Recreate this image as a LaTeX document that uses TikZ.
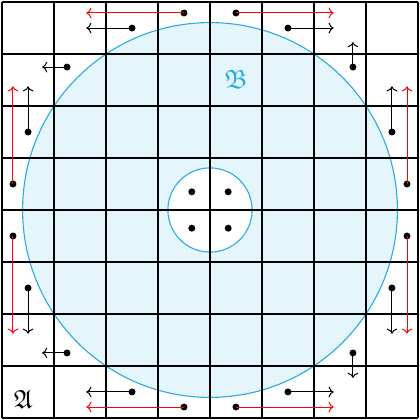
\documentclass[tikz,border=0pt]{standalone}
\usepackage{amssymb}
\usetikzlibrary{arrows.meta}
\definecolor{discline}{HTML}{29ABE2}
\definecolor{discfill}{HTML}{E4F5FC}
\definecolor{flowred}{HTML}{FF0000}

\begin{document}
\begin{tikzpicture}[dot/.style={circle,fill=black,inner sep=0pt,minimum size=3.8pt},
  flow/.style={->,line width=0.55pt}]
\useasboundingbox (-0.04,-0.04) rectangle (8.04,8.04);
% the disc B and the hole round the centre
\draw[discline,fill=discfill,line width=0.6pt] (4,4) circle ({sqrt(13)});
\draw[discline,fill=white,line width=0.6pt] (4,4) circle (0.81);
\node[discline,font=\Large] (B) at (4.5,6.51) {$\mathfrak{B}$};
\node[font=\Large] (A) at (0.41,0.35) {$\mathfrak{A}$};
% grid
\draw[line width=1.1pt] (0,0) grid (8,8);
% dots in the hole
\foreach \nm/\pos in {c1/{3.65,4.35},c2/{4.35,4.35},c3/{3.65,3.65},c4/{4.35,3.65}}
  \node[dot] (\nm) at (\pos) {};
% red moves along the border
\foreach \nm/\pos/\tip in {r1/{3.5,7.79}/{1.62,7.79},r2/{4.5,7.79}/{6.38,7.79},
  r3/{3.5,0.21}/{1.62,0.21},r4/{4.5,0.21}/{6.38,0.21},
  r5/{0.21,4.5}/{0.21,6.38},r6/{7.79,4.5}/{7.79,6.38},
  r7/{0.21,3.5}/{0.21,1.62},r8/{7.79,3.5}/{7.79,1.62}}{
  \node[dot] (\nm) at (\pos) {};
  \coordinate (\nm-end) at (\tip);
  \draw[flow,flowred] (\nm.center) -- (\nm-end);
}
% black moves
\foreach \nm/\pos/\tip in {b1/{2.5,7.5}/{1.62,7.5},b2/{5.5,7.5}/{6.38,7.5},
  b3/{2.5,0.5}/{1.62,0.5},b4/{5.5,0.5}/{6.38,0.5},
  b5/{0.5,5.5}/{0.5,6.38},b6/{7.5,5.5}/{7.5,6.38},
  b7/{0.5,2.5}/{0.5,1.62},b8/{7.5,2.5}/{7.5,1.62},
  b9/{1.25,6.75}/{0.77,6.75},b10/{6.75,6.75}/{6.75,7.23},
  b11/{1.25,1.25}/{0.77,1.25},b12/{6.75,1.25}/{6.75,0.77}}{
  \node[dot] (\nm) at (\pos) {};
  \coordinate (\nm-end) at (\tip);
  \draw[flow] (\nm.center) -- (\nm-end);
}
\end{tikzpicture}
\end{document}
